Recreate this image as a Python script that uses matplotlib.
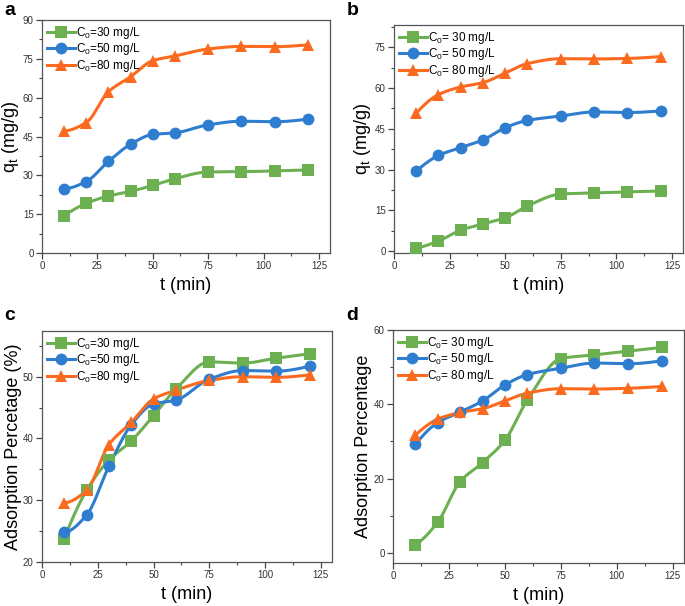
import numpy as np
import matplotlib
matplotlib.use("Agg")
import matplotlib.pyplot as plt
from matplotlib.ticker import MultipleLocator
from matplotlib.lines import Line2D

plt.rcParams['font.family'] = ['Liberation Sans', 'DejaVu Sans']
plt.rcParams['mathtext.fontset'] = 'custom'
plt.rcParams['mathtext.rm'] = 'Liberation Sans'
plt.rcParams['mathtext.it'] = 'Liberation Sans'

t = [10, 20, 30, 40, 50, 60, 75, 90, 105, 120]

# panel a: q_t (mg/g)
a30 = [14.4, 19.2, 22.0, 23.8, 26.1, 28.7, 31.3, 31.4, 31.7, 32.1]
a50 = [24.8, 27.6, 35.4, 42.0, 45.8, 46.4, 49.5, 50.9, 50.7, 51.7]
a80 = [47.2, 50.4, 62.3, 68.1, 74.3, 76.1, 78.8, 79.8, 79.7, 80.4]
# panel b: q_t (mg/g)
b30 = [1.0, 3.7, 7.7, 10.0, 12.2, 16.6, 21.0, 21.4, 21.8, 22.1]
b50 = [29.4, 35.2, 38.1, 40.9, 45.4, 48.1, 49.7, 51.2, 51.0, 51.6]
b80 = [50.8, 57.6, 60.4, 62.0, 65.5, 69.0, 70.8, 70.7, 70.9, 71.6]
# panel c: adsorption percentage (%)
c30 = [23.8, 31.6, 36.5, 39.6, 43.7, 48.0, 52.4, 52.2, 53.0, 53.7]
c50 = [24.8, 27.6, 35.5, 42.2, 45.6, 46.2, 49.6, 51.0, 50.9, 51.7]
c80 = [29.6, 31.6, 39.0, 42.6, 46.4, 47.8, 49.4, 50.0, 49.9, 50.3]
# panel d: adsorption percentage
d30 = [2.2, 8.3, 19.2, 24.3, 30.3, 41.1, 52.3, 53.3, 54.3, 55.3]
d50 = [29.2, 35.1, 37.9, 40.9, 45.2, 48.0, 49.7, 51.1, 50.9, 51.7]
d80 = [31.7, 36.0, 37.8, 38.8, 40.9, 43.0, 44.2, 44.1, 44.3, 44.8]

labels_ac = [r'C$_0$=30 mg/L', r'C$_0$=50 mg/L', r'C$_0$=80 mg/L']
labels_bd = [r'C$_0$= 30 mg/L', r'C$_0$= 50 mg/L', r'C$_0$= 80 mg/L']

colors = ['#6cb052', '#2f7dcf', '#fb6a1e']
markers = ['s', 'o', '^']


def pchip(x, y, n=300):
    x = np.asarray(x, float)
    y = np.asarray(y, float)
    h = np.diff(x)
    delta = np.diff(y) / h
    nn = len(x)
    m = np.zeros(nn)
    for k in range(1, nn - 1):
        if delta[k - 1] * delta[k] > 0:
            w1 = 2 * h[k] + h[k - 1]
            w2 = h[k] + 2 * h[k - 1]
            m[k] = (w1 + w2) / (w1 / delta[k - 1] + w2 / delta[k])
        else:
            m[k] = 0.0
    m[0] = ((2 * h[0] + h[1]) * delta[0] - h[0] * delta[1]) / (h[0] + h[1])
    if np.sign(m[0]) != np.sign(delta[0]):
        m[0] = 0
    m[-1] = ((2 * h[-1] + h[-2]) * delta[-1] - h[-1] * delta[-2]) / (h[-1] + h[-2])
    if np.sign(m[-1]) != np.sign(delta[-1]):
        m[-1] = 0
    xs = np.linspace(x[0], x[-1], n)
    idx = np.clip(np.searchsorted(x, xs) - 1, 0, nn - 2)
    hh = h[idx]
    s = (xs - x[idx]) / hh
    h00 = 2 * s ** 3 - 3 * s ** 2 + 1
    h10 = s ** 3 - 2 * s ** 2 + s
    h01 = -2 * s ** 3 + 3 * s ** 2
    h11 = s ** 3 - s ** 2
    ys = h00 * y[idx] + h10 * hh * m[idx] + h01 * y[idx + 1] + h11 * hh * m[idx + 1]
    return xs, ys


fig = plt.figure(figsize=(6.85, 6.06), dpi=100)

panels = [
    dict(rect=[0.0613, 0.5825, 0.4204, 0.3845], series=[a30, a50, a80], labels=labels_ac,
         ylim=(0, 90), ymaj=15, ymin=7.5, ylabel=r'q$_t$ (mg/g)', letter='a', lx=0.006, ly=0.997),
    dict(rect=[0.5752, 0.5825, 0.4219, 0.3762], series=[b30, b50, b80], labels=labels_bd,
         ylim=(-0.7, 83.2), ymaj=15, ymin=7.5, ylabel=r'q$_t$ (mg/g)', letter='b', lx=0.506, ly=0.997),
    dict(rect=[0.0613, 0.0726, 0.4234, 0.3812], series=[c30, c50, c80], labels=labels_ac,
         ylim=(20, 57.4), ymaj=10, ymin=5, ylabel='Adsorption Percetage (%)', letter='c', lx=0.006, ly=0.494),
    dict(rect=[0.5737, 0.0710, 0.4248, 0.3845], series=[d30, d50, d80], labels=labels_bd,
         ylim=(-2.7, 60), ymaj=20, ymin=10, ylabel='Adsorption Percentage', letter='d', lx=0.506, ly=0.494),
]

for p in panels:
    ax = fig.add_axes(p['rect'])
    handles = []
    for ys, col, mk, lab in zip(p['series'], colors, markers, p['labels']):
        xs, ss = pchip(t, ys)
        ax.plot(xs, ss, color=col, lw=2.2, zorder=2)
        ax.plot(t, ys, linestyle='none', marker=mk, color=col, markersize=8.5,
                markeredgewidth=0, zorder=3)
        handles.append(Line2D([], [], color=col, lw=2.2, marker=mk, markersize=8.5,
                              markeredgewidth=0, label=lab))
    ax.set_xlim(0, 130)
    ax.set_ylim(*p['ylim'])
    ax.xaxis.set_major_locator(MultipleLocator(25))
    ax.xaxis.set_minor_locator(MultipleLocator(12.5))
    ax.yaxis.set_major_locator(MultipleLocator(p['ymaj']))
    ax.yaxis.set_minor_locator(MultipleLocator(p['ymin']))
    ax.tick_params(which='both', direction='out', top=False, right=False,
                   colors='#444444', labelcolor='#333333', labelsize=7)
    ax.tick_params(which='major', length=4, width=0.9, pad=2)
    ax.tick_params(which='minor', length=2, width=0.8)
    for sp in ax.spines.values():
        sp.set_color('#555555')
        sp.set_linewidth(0.9)
    ax.set_xlabel('t (min)', fontsize=13, labelpad=4)
    ax.set_ylabel(p['ylabel'], fontsize=13, labelpad=1)
    ax.legend(handles=handles, loc='upper left', frameon=False, fontsize=8.5,
              handlelength=2.4, handletextpad=0.1, labelspacing=0.05,
              borderaxespad=0.1, borderpad=0.3)
    fig.text(p['lx'], p['ly'], p['letter'], fontsize=14, fontweight='bold',
             ha='left', va='top')

fig.savefig('out.png', dpi=100)
